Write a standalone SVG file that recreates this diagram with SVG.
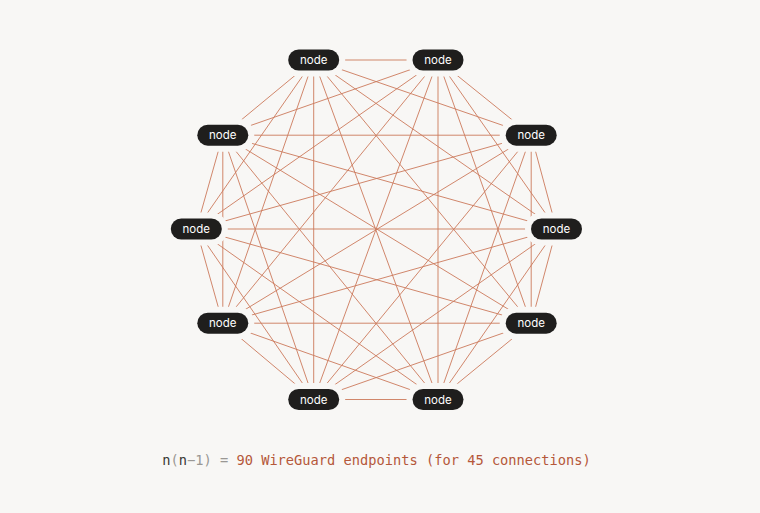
<svg xmlns="http://www.w3.org/2000/svg" width="760" height="513" viewBox="0 0 760 513">
<style>
.bg{fill:#f8f7f5}
.edges line{stroke:#cc7a5c;stroke-width:1;stroke-opacity:0.9}
.pill{fill:#1f1e1d;stroke:#f8f7f5;stroke-width:12;paint-order:stroke}
.lbl{fill:#ffffff;font-family:Inter,"Noto Sans","Liberation Sans",sans-serif;font-size:11.5px;text-anchor:middle}
.cap{font-family:"DejaVu Sans Mono","Liberation Mono",monospace;font-size:13.7px}
.d{fill:#3a3836}.g{fill:#9a9794}.o{fill:#b5583a}
</style>
<rect class="bg" width="760" height="513"/>
<g id="connectors" class="edges">
<line x1="313.7" y1="60" x2="438" y2="60"/>
<line x1="313.7" y1="60" x2="222.8" y2="135.2"/>
<line x1="313.7" y1="60" x2="531.2" y2="135.2"/>
<line x1="313.7" y1="60" x2="196.3" y2="229"/>
<line x1="313.7" y1="60" x2="556.5" y2="229"/>
<line x1="313.7" y1="60" x2="222.8" y2="323.2"/>
<line x1="313.7" y1="60" x2="531.2" y2="323.2"/>
<line x1="313.7" y1="60" x2="313.7" y2="399.5"/>
<line x1="313.7" y1="60" x2="438" y2="399.5"/>
<line x1="438" y1="60" x2="222.8" y2="135.2"/>
<line x1="438" y1="60" x2="531.2" y2="135.2"/>
<line x1="438" y1="60" x2="196.3" y2="229"/>
<line x1="438" y1="60" x2="556.5" y2="229"/>
<line x1="438" y1="60" x2="222.8" y2="323.2"/>
<line x1="438" y1="60" x2="531.2" y2="323.2"/>
<line x1="438" y1="60" x2="313.7" y2="399.5"/>
<line x1="438" y1="60" x2="438" y2="399.5"/>
<line x1="222.8" y1="135.2" x2="531.2" y2="135.2"/>
<line x1="222.8" y1="135.2" x2="196.3" y2="229"/>
<line x1="222.8" y1="135.2" x2="556.5" y2="229"/>
<line x1="222.8" y1="135.2" x2="222.8" y2="323.2"/>
<line x1="222.8" y1="135.2" x2="531.2" y2="323.2"/>
<line x1="222.8" y1="135.2" x2="313.7" y2="399.5"/>
<line x1="222.8" y1="135.2" x2="438" y2="399.5"/>
<line x1="531.2" y1="135.2" x2="196.3" y2="229"/>
<line x1="531.2" y1="135.2" x2="556.5" y2="229"/>
<line x1="531.2" y1="135.2" x2="222.8" y2="323.2"/>
<line x1="531.2" y1="135.2" x2="531.2" y2="323.2"/>
<line x1="531.2" y1="135.2" x2="313.7" y2="399.5"/>
<line x1="531.2" y1="135.2" x2="438" y2="399.5"/>
<line x1="196.3" y1="229" x2="556.5" y2="229"/>
<line x1="196.3" y1="229" x2="222.8" y2="323.2"/>
<line x1="196.3" y1="229" x2="531.2" y2="323.2"/>
<line x1="196.3" y1="229" x2="313.7" y2="399.5"/>
<line x1="196.3" y1="229" x2="438" y2="399.5"/>
<line x1="556.5" y1="229" x2="222.8" y2="323.2"/>
<line x1="556.5" y1="229" x2="531.2" y2="323.2"/>
<line x1="556.5" y1="229" x2="313.7" y2="399.5"/>
<line x1="556.5" y1="229" x2="438" y2="399.5"/>
<line x1="222.8" y1="323.2" x2="531.2" y2="323.2"/>
<line x1="222.8" y1="323.2" x2="313.7" y2="399.5"/>
<line x1="222.8" y1="323.2" x2="438" y2="399.5"/>
<line x1="531.2" y1="323.2" x2="313.7" y2="399.5"/>
<line x1="531.2" y1="323.2" x2="438" y2="399.5"/>
<line x1="313.7" y1="399.5" x2="438" y2="399.5"/>
</g>
<g id="n1"><rect class="pill" x="288.2" y="49.5" width="51" height="21" rx="10.5"/><text class="lbl" x="313.7" y="64.2">node</text></g>
<g id="n2"><rect class="pill" x="412.5" y="49.5" width="51" height="21" rx="10.5"/><text class="lbl" x="438" y="64.2">node</text></g>
<g id="n3"><rect class="pill" x="197.3" y="124.7" width="51" height="21" rx="10.5"/><text class="lbl" x="222.8" y="139.4">node</text></g>
<g id="n4"><rect class="pill" x="505.7" y="124.7" width="51" height="21" rx="10.5"/><text class="lbl" x="531.2" y="139.4">node</text></g>
<g id="n5"><rect class="pill" x="170.8" y="218.5" width="51" height="21" rx="10.5"/><text class="lbl" x="196.3" y="233.2">node</text></g>
<g id="n6"><rect class="pill" x="531" y="218.5" width="51" height="21" rx="10.5"/><text class="lbl" x="556.5" y="233.2">node</text></g>
<g id="n7"><rect class="pill" x="197.3" y="312.7" width="51" height="21" rx="10.5"/><text class="lbl" x="222.8" y="327.4">node</text></g>
<g id="n8"><rect class="pill" x="505.7" y="312.7" width="51" height="21" rx="10.5"/><text class="lbl" x="531.2" y="327.4">node</text></g>
<g id="n9"><rect class="pill" x="288.2" y="389" width="51" height="21" rx="10.5"/><text class="lbl" x="313.7" y="403.7">node</text></g>
<g id="n10"><rect class="pill" x="412.5" y="389" width="51" height="21" rx="10.5"/><text class="lbl" x="438" y="403.7">node</text></g>
<text class="cap" x="376.5" y="465" text-anchor="middle"><tspan class="d">n</tspan><tspan class="g">(</tspan><tspan class="d">n</tspan><tspan class="g">−1) = </tspan><tspan class="o">90 WireGuard endpoints (for 45 connections)</tspan></text>
</svg>
